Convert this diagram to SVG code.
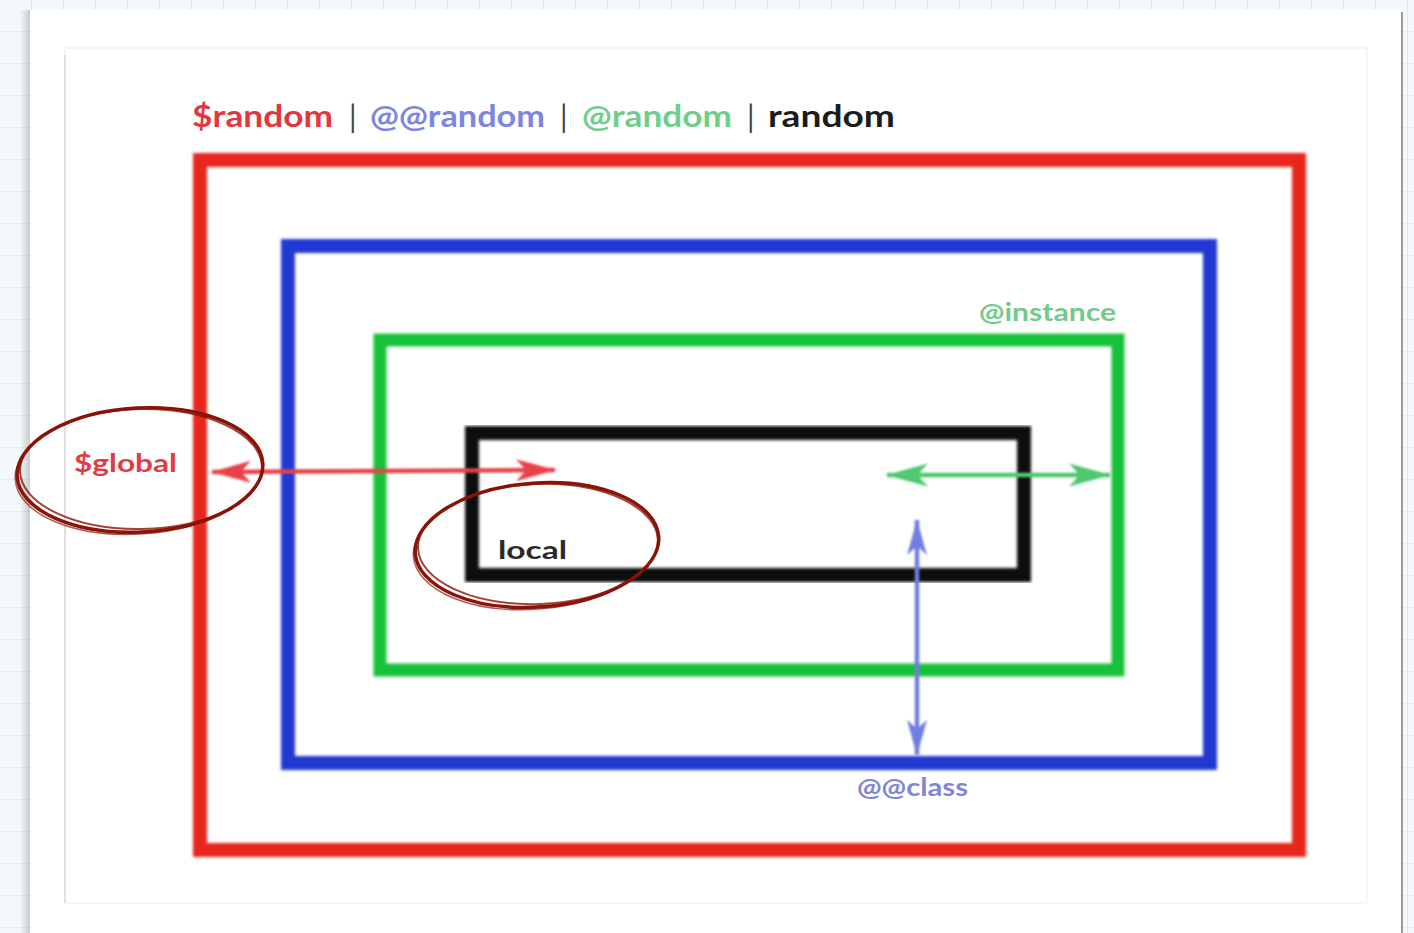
<svg xmlns="http://www.w3.org/2000/svg" width="1414" height="933" viewBox="0 0 1414 933">
<defs>
<pattern id="grid" width="32" height="32" patternUnits="userSpaceOnUse">
<rect width="32" height="32" fill="#f3f8fb"/>
<path d="M32 0V32M0 32H32" stroke="#cfe2ec" stroke-width="1.2" fill="none"/>
</pattern>
<linearGradient id="shadowL" x1="0" x2="1" y1="0" y2="0">
<stop offset="0" stop-color="#000" stop-opacity="0"/>
<stop offset="1" stop-color="#000" stop-opacity="0.18"/>
</linearGradient>
<filter id="soft" x="-5%" y="-5%" width="110%" height="110%"><feGaussianBlur stdDeviation="1.6"/></filter>
<filter id="softer" x="-5%" y="-20%" width="110%" height="140%"><feGaussianBlur stdDeviation="0.8"/></filter>
<marker id="ar" viewBox="0 0 40 22" refX="39" refY="11" markerWidth="40" markerHeight="22" markerUnits="userSpaceOnUse" orient="auto-start-reverse">
<path d="M0 0L40 11L0 22L10 11Z" fill="#e8434a"/>
</marker>
<marker id="ag" viewBox="0 0 40 22" refX="39" refY="11" markerWidth="42" markerHeight="24" markerUnits="userSpaceOnUse" orient="auto-start-reverse">
<path d="M0 0L40 11L0 22L10 11Z" fill="#4fc86e"/>
</marker>
<marker id="ab" viewBox="0 0 40 22" refX="39" refY="11" markerWidth="36" markerHeight="24" markerUnits="userSpaceOnUse" orient="auto-start-reverse">
<path d="M0 0L40 11L0 22L10 11Z" fill="#6f7ee0"/>
</marker>
</defs>
<style>
.lbl{font-family:"Century Gothic","URW Gothic","Lato","Liberation Sans",sans-serif;font-weight:bold}
.box{fill:none}
.circ{fill:none;stroke:#8a1408;stroke-linecap:round}
</style>
<rect width="1414" height="933" fill="url(#grid)"/>
<rect x="20" y="10" width="10" height="923" fill="url(#shadowL)"/>
<rect x="30" y="10" width="1372" height="923" fill="#ffffff"/>
<line x1="1402" y1="12" x2="1402" y2="933" stroke="#9a9a9a" stroke-width="2"/>
<rect x="65" y="48" width="1302" height="855" fill="#fff" stroke="#ececec" stroke-width="1"/>
<line x1="65" y1="55" x2="65" y2="903" stroke="#c8c8c8" stroke-width="1"/>

<g id="title" class="lbl" font-size="30">
<text x="192" y="127" fill="#e2373f" textLength="141" lengthAdjust="spacingAndGlyphs">$random</text>
<text x="349" y="128" fill="#444" font-weight="normal">|</text>
<text x="370" y="127" fill="#7d86e0" textLength="175" lengthAdjust="spacingAndGlyphs">@@random</text>
<text x="560" y="128" fill="#444" font-weight="normal">|</text>
<text x="582" y="127" fill="#6fcf8a" textLength="150" lengthAdjust="spacingAndGlyphs">@random</text>
<text x="747" y="128" fill="#444" font-weight="normal">|</text>
<text x="768" y="127" fill="#1c1c1c" textLength="127" lengthAdjust="spacingAndGlyphs">random</text>
</g>

<g id="global-scope" filter="url(#soft)">
<rect class="box" x="200" y="160" width="1099" height="690" stroke="#e8261c" stroke-width="14"/>
</g>
<g id="class-scope" filter="url(#soft)">
<rect class="box" x="288" y="246" width="922" height="517" stroke="#2438d2" stroke-width="14"/>
</g>
<g id="instance-scope" filter="url(#soft)">
<rect class="box" x="380" y="340" width="738" height="330" stroke="#14c23a" stroke-width="13"/>
</g>
<g id="local-scope" filter="url(#soft)">
<rect class="box" x="472" y="433" width="552" height="142" stroke="#0c0c0c" stroke-width="14"/>
</g>

<g id="connectors" filter="url(#softer)">
<line x1="212" y1="472" x2="555" y2="470" stroke="#e8434a" stroke-width="4.5" marker-start="url(#ar)" marker-end="url(#ar)"/>
<line x1="887" y1="475" x2="1110" y2="475" stroke="#4fc86e" stroke-width="4.5" marker-start="url(#ag)" marker-end="url(#ag)"/>
<line x1="917" y1="520" x2="917" y2="755" stroke="#6f7ee0" stroke-width="4.5" marker-start="url(#ab)" marker-end="url(#ab)"/>
</g>

<g id="labels" class="lbl" font-size="25">
<text x="74" y="472" fill="#e03c48" textLength="103" lengthAdjust="spacingAndGlyphs">$global</text>
<text x="498" y="559" fill="#2a2a2a" textLength="69" lengthAdjust="spacingAndGlyphs">local</text>
<text x="979" y="321" fill="#72c98a" textLength="137" lengthAdjust="spacingAndGlyphs">@instance</text>
<text x="857" y="796" fill="#7d86d8" textLength="111" lengthAdjust="spacingAndGlyphs">@@class</text>
</g>

<g id="global-circle">
<ellipse class="circ" cx="140" cy="470" rx="123" ry="62" transform="rotate(-3 140 470)" stroke-width="3.5"/>
<ellipse class="circ" cx="141" cy="469" rx="121" ry="60" transform="rotate(-1 141 469)" stroke-width="2" opacity="0.8"/>
<ellipse class="circ" cx="139" cy="471" rx="124" ry="63" transform="rotate(-4 139 471)" stroke-width="1.5" opacity="0.7"/>
</g>
<g id="local-circle">
<ellipse class="circ" cx="537" cy="545" rx="122" ry="62" transform="rotate(-4 537 545)" stroke-width="3.5"/>
<ellipse class="circ" cx="538" cy="544" rx="120" ry="60" transform="rotate(-2 538 544)" stroke-width="2" opacity="0.8"/>
<ellipse class="circ" cx="536" cy="546" rx="123" ry="63" transform="rotate(-5 536 546)" stroke-width="1.5" opacity="0.7"/>
</g>
</svg>
